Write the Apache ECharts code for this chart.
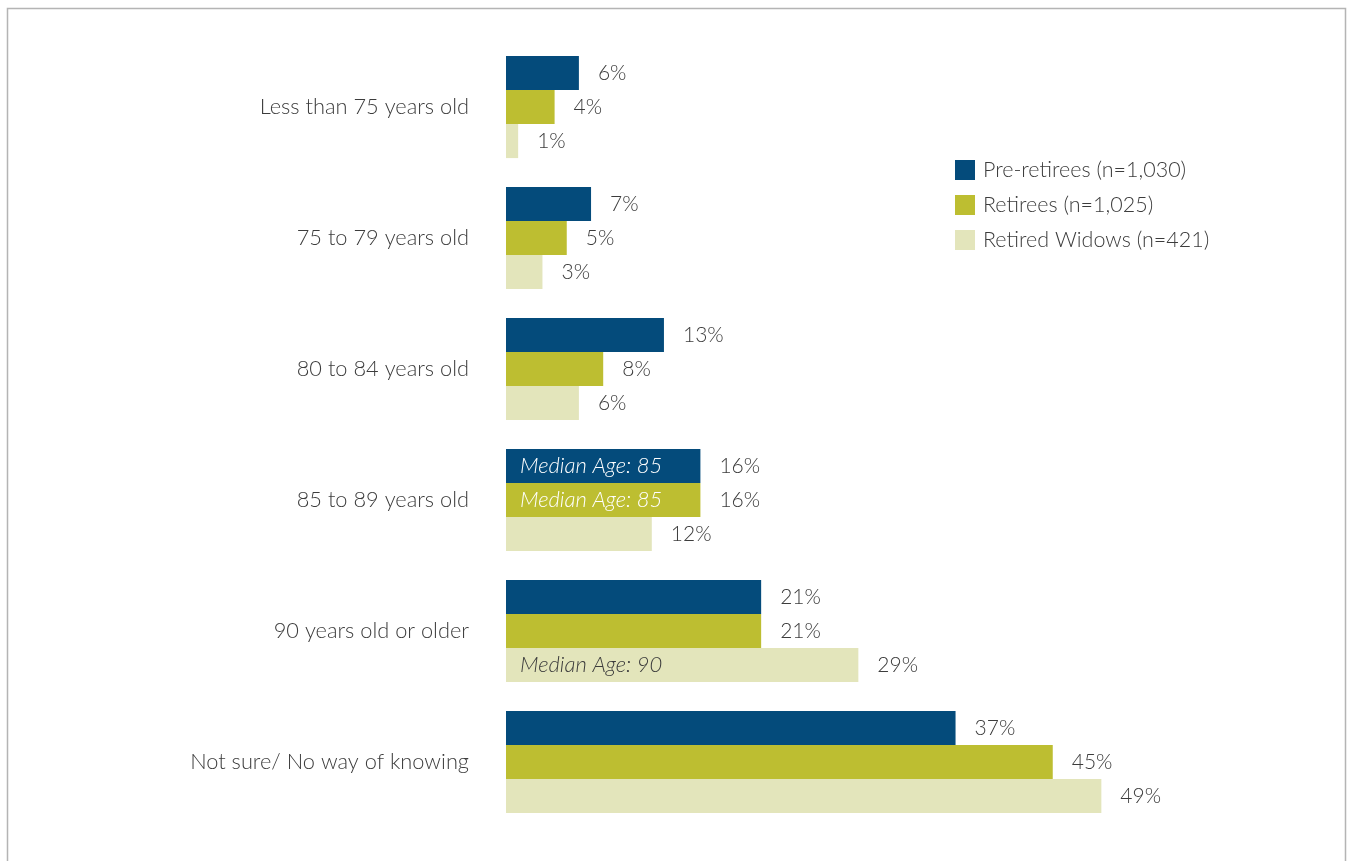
<!DOCTYPE html>
<html>
<head>
<meta charset="utf-8">
<style>
  html, body { margin: 0; padding: 0; background: #fff; }
  #chart { width: 1351px; height: 861px; }
</style>
<script src="https://cdn.jsdelivr.net/npm/echarts@6/dist/echarts.min.js"></script>
</head>
<body>
<div id="chart"></div>
<script>
// Expected age at death, by respondent group (percent)
const categories = [
  'Less than 75 years old',
  '75 to 79 years old',
  '80 to 84 years old',
  '85 to 89 years old',
  '90 years old or older',
  'Not sure/ No way of knowing'
];
const seriesNames = ['Pre-retirees (n=1,030)', 'Retirees (n=1,025)', 'Retired Widows (n=421)'];
const preRetirees = [6, 7, 13, 16, 21, 37];
const retirees = [4, 5, 8, 16, 21, 45];
const retiredWidows = [1, 3, 6, 12, 29, 49];
// Median age note per group, placed on the bar of the category that holds it
const medianNotes = [
  ['', '', '', 'Median Age: 85', '', ''],
  ['', '', '', 'Median Age: 85', '', ''],
  ['', '', '', '', 'Median Age: 90', '']
];

const colors = ['#044b7b', '#bdbe31', '#e3e5bb'];
const noteColors = ['#ffffff', '#ffffff', '#3c3c3c'];
const values = [preRetirees, retirees, retiredWidows];
const FONT = 'Lato, "Open Sans", sans-serif';
const TEXT = '#3c3c3c';

const series = [];
values.forEach((vals, i) => {
  // zero-width helper bar at the start of the slot carries the median note
  series.push({
    name: 'note' + i,
    type: 'bar',
    stack: 's' + i,
    z: 5,
    silent: true,
    data: vals.map(() => 0),
    itemStyle: { color: 'transparent' },
    label: {
      show: true,
      position: 'right',
      distance: 14,
      formatter: p => medianNotes[i][p.dataIndex],
      color: noteColors[i],
      fontFamily: FONT,
      fontStyle: 'italic',
      fontWeight: 300,
      fontSize: 22
    }
  });
  series.push({
    name: seriesNames[i],
    type: 'bar',
    stack: 's' + i,
    barGap: '0%',
    barCategoryGap: '22%',
    data: vals,
    itemStyle: { color: colors[i] },
    label: {
      show: true,
      position: 'right',
      distance: 19,
      formatter: '{c}%',
      color: TEXT,
      fontFamily: FONT,
      fontWeight: 300,
      fontSize: 21
    }
  });
});

const chart = echarts.init(document.getElementById('chart'));
chart.setOption({
  animation: false,
  backgroundColor: '#fff',
  graphic: [{
    type: 'rect',
    shape: { x: 7.5, y: 8.5, width: 1338, height: 900 },
    style: { fill: 'none', stroke: '#b4b4b4', lineWidth: 1.5 },
    silent: true
  }],
  legend: {
    data: seriesNames,
    orient: 'vertical',
    left: 950,
    top: 154,
    itemWidth: 20,
    itemHeight: 20,
    itemGap: 13,
    icon: 'rect',
    textStyle: {
      color: TEXT,
      fontFamily: FONT,
      fontWeight: 300,
      fontSize: 21.5,
      lineHeight: 20,
      padding: [0, 0, 0, 3]
    }
  },
  grid: { left: 506, right: 116, top: 41.5, bottom: 33.5 },
  xAxis: {
    type: 'value',
    min: 0,
    max: 60,
    show: false,
    splitLine: { show: false }
  },
  yAxis: {
    type: 'category',
    data: categories,
    inverse: true,
    axisLine: { show: false },
    axisTick: { show: false },
    axisLabel: {
      margin: 37,
      color: TEXT,
      fontFamily: FONT,
      fontWeight: 300,
      fontSize: 21.8
    }
  },
  series: series
});
</script>
</body>
</html>
